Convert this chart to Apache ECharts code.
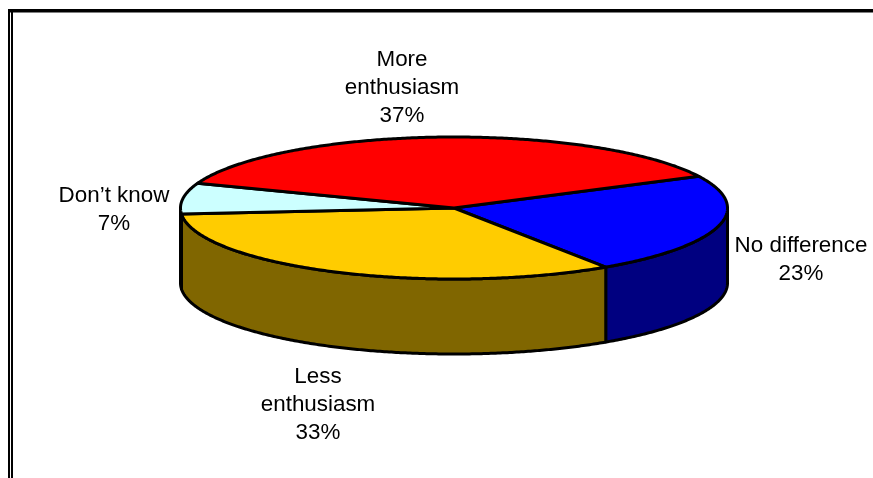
<!DOCTYPE html>
<html>
<head>
<meta charset="utf-8">
<style>html,body{margin:0;padding:0;background:#fff}#c{width:873px;height:478px}</style>
<script src="https://cdn.jsdelivr.net/npm/echarts@6/dist/echarts.min.js"></script>
</head>
<body>
<div id="c"></div>
<script>
const categories = ["No difference", "Less\nenthusiasm", "Don\u2019t know", "More\nenthusiasm"];
const shares = [23, 33, 7, 37];
const topColors = ["#0000ff", "#ffcc00", "#ccffff", "#ff0000"];
const sideColors = ["#000080", "#806600", "#668080", "#800000"];
const labelCenters = [[801, 260], [318, 405], [114, 210], [402, 88]];

const CX = 454, CY = 208, RX = 273.5, RY = 71, DEPTH = 75, START = 63.5;
const total = shares.reduce((a, b) => a + b, 0);
const spans = [];
shares.reduce((acc, v) => {
  const next = acc + v / total * 360;
  spans.push([acc, next]);
  return next;
}, START);

function pt(deg, dy) {
  const r = deg * Math.PI / 180;
  return [CX + RX * Math.sin(r), CY - RY * Math.cos(r) + (dy || 0)];
}
function arc(a0, a1, dy) {
  const n = Math.max(2, Math.ceil(Math.abs(a1 - a0) * 2));
  const out = [];
  for (let i = 0; i <= n; i++) out.push(pt(a0 + (a1 - a0) * i / n, dy));
  return out;
}

function renderSide(params) {
  const s = spans[params.dataIndex];
  const a0 = Math.max(s[0], 90), a1 = Math.min(s[1], 270);
  if (a1 <= a0) return { type: 'group', children: [] };
  const points = arc(a0, a1, 0).concat(arc(a1, a0, DEPTH));
  return {
    type: 'polygon',
    shape: { points },
    style: { fill: sideColors[params.dataIndex], stroke: '#000', lineWidth: 3, lineJoin: 'round' }
  };
}
function renderTop(params, api) {
  const i = params.dataIndex, s = spans[i];
  const points = [[CX, CY]].concat(arc(s[0], s[1], 0));
  return {
    type: 'polygon',
    shape: { points },
    style: { fill: topColors[i], stroke: '#000', lineWidth: 3, lineJoin: 'round' }
  };
}
function renderLabel(params, api) {
  const i = params.dataIndex;
  return {
    type: 'text',
    x: labelCenters[i][0],
    y: labelCenters[i][1],
    style: {
      text: categories[i] + "\n" + api.value(0) + "%",
      fill: '#000',
      font: '22.4px "Liberation Sans", Arial, sans-serif',
      lineHeight: 28,
      align: 'center',
      verticalAlign: 'middle'
    }
  };
}

const chart = echarts.init(document.getElementById('c'), null, { renderer: 'canvas' });
const seriesData = shares.map((v, i) => ({ name: categories[i], value: [v] }));
chart.setOption({
  animation: false,
  backgroundColor: '#ffffff',
  graphic: [
    { type: 'rect', silent: true, shape: { x: 8, y: 9, width: 865, height: 3.6 }, style: { fill: '#000' } },
    { type: 'rect', silent: true, shape: { x: 8, y: 9, width: 2, height: 469 }, style: { fill: '#000' } },
    { type: 'rect', silent: true, shape: { x: 11, y: 9, width: 2, height: 469 }, style: { fill: '#000' } }
  ],
  series: [
    { type: 'custom', name: 'sides', coordinateSystem: 'none', silent: true, z: 2, renderItem: renderSide, data: seriesData },
    { type: 'custom', name: 'tops', coordinateSystem: 'none', silent: true, z: 3, renderItem: renderTop, data: seriesData },
    { type: 'custom', name: 'labels', coordinateSystem: 'none', silent: true, z: 4, renderItem: renderLabel, data: seriesData }
  ]
});
</script>
</body>
</html>
